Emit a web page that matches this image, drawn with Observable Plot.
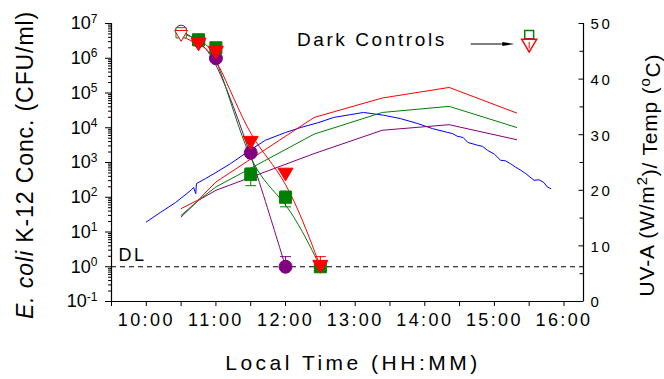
<!DOCTYPE html>
<html><head><meta charset="utf-8">
<script src="https://cdn.jsdelivr.net/npm/d3@7"></script>
<script src="https://cdn.jsdelivr.net/npm/@observablehq/plot@0.6"></script>
<style>
body{margin:0;background:#fff;}
#chart svg{font-family:"Liberation Sans",Arial,sans-serif;}
g[aria-label="x-axis tick label"] text{font-size:18px;letter-spacing:2.4px;}
g[aria-label="y-axis tick label"] text{font-size:18px;}
</style></head><body><div id="chart"></div>
<script>
// ---- E. coli K-12 concentrations (CFU/ml) at sampling times (decimal hours) ----
const sampleTimes = [10.5, 10.75, 11.0, 11.5, 12.0, 12.5];
const redConc    = [4.4e6, 2.5e6, 1.45e6, 3.7e3, 450, 1];
const greenConc  = [5.4e6, 3.4e6, 2.0e6, 450, 100, 1];
const purpleConc = [6.2e6, 3.2e6, 1.0e6, 1.9e3, 1];
// error bars [time, low, high]
const redErr    = [[11.5, 2.6e3, 5.2e3], [12.5, 1, 1.95]];
const greenErr  = [[11.5, 215, 700], [12.0, 53, 150]];
const purpleErr = [[12.0, 1, 1.95]];
// dark controls
const darkTime = 15.5;
const darkRed = 2.3e6, darkGreen = 4.7e6, darkPurple = 3.6e6;
const detectionLimit = 1;

// ---- temperature (right axis, °C) ----
const tempTimes  = [10.5, 10.75, 11.0, 12.41, 13.39, 14.35, 15.32];
const redTemp    = [16.7, 18.3, 21.5, 33.1, 36.6, 38.5, 33.9];
const greenTemp  = [15.5, 18.2, 20.6, 30.1, 34.0, 35.1, 31.3];
const purpleTemp = [15.2, 18.2, 20.0, 26.6, 30.8, 31.8, 29.1];

// ---- UV-A (right axis, W/m2) ----
const uvTimes = [10.0, 10.2, 10.42, 10.64, 10.68, 10.71, 10.72, 10.85, 11.0, 11.21, 11.5, 11.71, 12.0, 12.22, 12.48, 12.69, 12.93, 13.12, 13.41, 13.65, 13.9, 14.11, 14.33, 14.4, 14.47, 14.55, 14.62, 14.76, 14.83, 14.9, 15.0, 15.09, 15.16, 15.23, 15.3, 15.38, 15.45, 15.57, 15.64, 15.71, 15.76, 15.81];
const uvValues = [14.3, 16.0, 17.8, 20.0, 20.5, 19.4, 21.2, 22.1, 23.2, 24.8, 27.3, 29.0, 30.4, 31.3, 32.2, 33.1, 33.6, 34.0, 33.5, 32.9, 32.0, 31.1, 30.4, 30.2, 29.7, 29.5, 28.6, 28.1, 27.9, 27.2, 26.5, 25.4, 25.3, 24.8, 24.2, 23.6, 23.0, 21.8, 21.9, 21.4, 20.6, 20.3];

// ---- axes ----
const xHourTicks = [10, 11, 12, 13, 14, 15, 16];
const xHalfTicks = [9.5, 10.5, 11.5, 12.5, 13.5, 14.5, 15.5];
const yDecades = [1e-1, 1e0, 1e1, 1e2, 1e3, 1e4, 1e5, 1e6, 1e7];
const rightMajor = [0, 10, 20, 30, 40, 50];
const rightMinor = [5, 15, 25, 35, 45];
const xDomain = [9.5, 16.28];

// ---- annotations ----
const darkLabel = {text: "Dark Controls", t: 13.24, c: 3.4e6};
const darkArrow = {t1: 14.66, t2: 15.2, c: 2.57e6};
const dlLabel = {text: "DL", t: 9.6, c: 2.2};

const RED = "#ff0000", GREEN = "#008000", PURPLE = "#800080", BLUE = "#0000ff";

const toRight = v => 10 ** (-1 + v * 8 / 50);
const fmtTime = h => `${Math.floor(h)}:00`;

const yMinor = [];
for (let e = -1; e < 7; e++) for (let m = 2; m <= 9; m++) yMinor.push(m * 10 ** e);

const series = (times, vals, s) => vals.map((c, i) => ({t: times[i], c, s}));
const ecoli = [
  ...series(sampleTimes, purpleConc, "purple"),
  ...series(sampleTimes, greenConc, "green"),
  ...series(sampleTimes, redConc, "red")
];
const temps = [
  ...series(tempTimes, purpleTemp, "purple"),
  ...series(tempTimes, greenTemp, "green"),
  ...series(tempTimes, redTemp, "red")
];
const uv = uvTimes.map((t, i) => ({t, v: uvValues[i]}));
const errs = [
  ...purpleErr.map(([t, lo, hi]) => ({t, lo, hi, s: "purple"})),
  ...greenErr.map(([t, lo, hi]) => ({t, lo, hi, s: "green"})),
  ...redErr.map(([t, lo, hi]) => ({t, lo, hi, s: "red"}))
];
const colorOf = {red: RED, green: GREEN, purple: PURPLE};

const rOf = size => Math.sqrt(size / Math.PI);
const capSym = {draw(ctx, size) { const r = rOf(size); ctx.moveTo(-r, 0); ctx.lineTo(r, 0); }};
const tickLeft = {draw(ctx, size) { const r = rOf(size); ctx.moveTo(-r, 0); ctx.lineTo(0, 0); }};
const triDown = {draw(ctx, size) { const r = rOf(size); ctx.moveTo(-r, -0.85 * r); ctx.lineTo(r, -0.85 * r); ctx.lineTo(0, 0.85 * r); ctx.closePath(); }};
const triRight = {draw(ctx, size) { const r = rOf(size); ctx.moveTo(-r, -0.35 * r); ctx.lineTo(r, 0); ctx.lineTo(-r, 0.35 * r); ctx.closePath(); }};

function symbolsFor(s, vals, symbol, r) {
  const pts = vals.map((c, i) => ({t: sampleTimes[i], c}));
  const first = pts.slice(0, 1), rest = pts.slice(1);
  return [
    Plot.dot(rest, {x: "t", y: "c", symbol, r, fill: colorOf[s], stroke: colorOf[s], strokeWidth: 1}),
    Plot.dot(first, {x: "t", y: "c", symbol, r: r * 0.85, fill: "white", stroke: colorOf[s], strokeWidth: 1})
  ];
}

const plot = Plot.plot({
  width: 664, height: 379,
  marginLeft: 111, marginRight: 81, marginTop: 23, marginBottom: 78,
  x: {domain: xDomain, label: null},
  y: {type: "log", domain: [0.1, 1e7], label: null},
  style: {background: "white", color: "black", fontFamily: "Liberation Sans, Arial, sans-serif"},
  marks: [
    Plot.axisX(xHalfTicks, {tickSize: 5, text: null, label: null}),
    Plot.axisX(xHourTicks, {tickSize: 5, tickPadding: 7, tickFormat: fmtTime, label: null}),
    Plot.axisY(yDecades, {tickSize: 6, tickPadding: 8, tickFormat: d => "10^" + Math.round(Math.log10(d)), label: null}),
    // left minor ticks (outward)
    Plot.dot(yMinor, {y: d => d, frameAnchor: "left", symbol: tickLeft, r: 3.5, stroke: "black", strokeWidth: 1}),
    // right axis (inward ticks)
    Plot.dot(rightMajor, {y: v => toRight(v), frameAnchor: "right", symbol: tickLeft, r: 5, stroke: "black", strokeWidth: 1}),
    Plot.dot(rightMinor, {y: v => toRight(v), frameAnchor: "right", symbol: tickLeft, r: 4, stroke: "black", strokeWidth: 1}),
    Plot.text(rightMajor, {y: v => toRight(v), frameAnchor: "right", text: v => String(v), dx: 7, dy: 1, textAnchor: "start", fontSize: 15, fill: "black"}),
    Plot.ruleX(xDomain, {stroke: "black", strokeWidth: 1.2}),
    Plot.ruleY([0.1], {stroke: "black", strokeWidth: 1.2}),
    Plot.ruleY([detectionLimit], {stroke: "black", strokeDasharray: "5,4", strokeWidth: 1}),
    // UV-A
    Plot.line(uv, {x: "t", y: d => toRight(d.v), stroke: BLUE, strokeWidth: 1}),
    // temperatures
    Plot.line(temps, {x: "t", y: d => toRight(d.c), z: "s", stroke: d => colorOf[d.s], strokeWidth: 1}),
    // E. coli fitted curves
    Plot.line(ecoli, {x: "t", y: "c", z: "s", stroke: d => colorOf[d.s], curve: "basis", strokeWidth: 1}),
    // error bars
    Plot.ruleX(errs, {x: "t", y1: "lo", y2: "hi", stroke: d => colorOf[d.s], strokeWidth: 1}),
    Plot.dot(errs, {x: "t", y: "lo", symbol: capSym, r: 5.5, stroke: d => colorOf[d.s], strokeWidth: 1}),
    Plot.dot(errs, {x: "t", y: "hi", symbol: capSym, r: 5.5, stroke: d => colorOf[d.s], strokeWidth: 1}),
    // symbols
    ...symbolsFor("purple", purpleConc, "circle", 6.5),
    ...symbolsFor("green", greenConc, "square", 6.8),
    ...symbolsFor("red", redConc, triDown, 7.5),
    // dark controls
    Plot.dot([{t: darkTime, c: darkGreen}], {x: "t", y: "c", symbol: "square", r: 5, fill: "white", stroke: GREEN}),
    Plot.dot([{t: darkTime, c: darkPurple}], {x: "t", y: "c", symbol: capSym, r: 5, stroke: PURPLE, strokeWidth: 1.5}),
    Plot.dot([{t: darkTime, c: darkRed}], {x: "t", y: "c", symbol: triDown, r: 7.5, fill: "white", stroke: RED}),
    Plot.ruleX([{t: darkTime, lo: darkRed * 0.8, hi: darkRed * 1.25}], {x: "t", y1: "lo", y2: "hi", stroke: RED}),
    // annotations
    Plot.text([darkLabel], {x: "t", y: "c", text: "text", fontSize: 19, textAnchor: "middle", fill: "black"}),
    Plot.link([darkArrow], {x1: "t1", x2: "t2", y1: "c", y2: "c", stroke: "black", strokeWidth: 1}),
    Plot.dot([darkArrow], {x: "t2", y: "c", symbol: triRight, r: 6, fill: "black"}),
    Plot.text([dlLabel], {x: "t", y: "c", text: "text", fontSize: 18, textAnchor: "start", fill: "black"})
  ]
});

const svg = d3.select(plot);
// letter spacing for annotations and right-axis labels
svg.selectAll('g[aria-label="text"] text').style("letter-spacing", "2.6px");
// superscripts on the left axis
svg.selectAll('g[aria-label="y-axis tick label"] text').each(function () {
  const txt = this.textContent;
  if (!txt.includes("^")) return;
  const [base, exp] = txt.split("^");
  const el = d3.select(this);
  el.text(null);
  el.append("tspan").text(base);
  el.append("tspan").attr("dy", "-0.55em").style("font-size", "12px").text(exp);
});
// axis titles
svg.append("text")
  .attr("transform", "translate(33,165) rotate(-90)")
  .attr("text-anchor", "middle").style("font-size", "23px").style("letter-spacing", "0.9px")
  .call(t => { t.append("tspan").style("font-style", "italic").text("E. coli"); t.append("tspan").text(" K-12 Conc. (CFU/ml)"); });
svg.append("text")
  .attr("transform", "translate(654,175) rotate(-90)")
  .attr("text-anchor", "middle").style("font-size", "21px").style("letter-spacing", "0.8px")
  .call(t => {
    t.append("tspan").text("UV-A (W/m");
    t.append("tspan").attr("dy", "-0.5em").style("font-size", "15px").text("2");
    t.append("tspan").attr("dy", "0.5em").text(")/ Temp (");
    t.append("tspan").attr("dy", "-0.5em").style("font-size", "15px").text("o");
    t.append("tspan").attr("dy", "0.5em").text("C)");
  });
svg.append("text")
  .attr("x", 353).attr("y", 370)
  .attr("text-anchor", "middle").style("font-size", "21px").style("letter-spacing", "3.5px")
  .text("Local Time (HH:MM)");

document.getElementById("chart").append(plot);
</script></body></html>
